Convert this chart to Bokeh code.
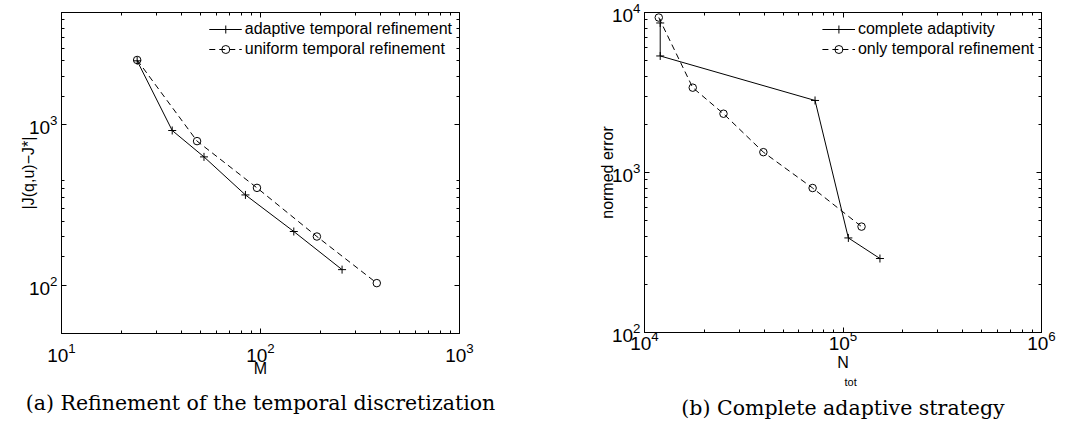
from bokeh.plotting import figure
from bokeh.models import (LogAxis, FixedTicker, LogTickFormatter, Legend,
                          LegendItem, Range1d, Title)
from bokeh.layouts import row
from bokeh.embed import file_html
from bokeh.resources import INLINE

# ---- panel (a): temporal refinement -------------------------------------
M_adaptive = [24, 36, 52, 84, 147, 257]
J_adaptive = [2500, 920, 630, 365, 216, 125]
M_uniform = [24, 48, 96, 192, 384]
J_uniform = [2530, 790, 404, 201, 103]

# ---- panel (b): complete adaptive strategy -------------------------------
N_complete = [12000, 12000, 72300, 106400, 153500]
err_complete = [8600, 5350, 2820, 390, 290]
N_temporal = [11800, 17500, 25000, 39700, 70300, 124000]
err_temporal = [9300, 3390, 2330, 1340, 800, 459]

SANS = "Liberation Sans"
SERIF = "DejaVu Serif"


def minor_ticks(lo, hi):
    out = []
    d = lo
    while d < hi:
        for k in range(2, 10):
            v = k * d
            if lo < v < hi:
                out.append(v)
        d *= 10
    return out


def decade_ticks(lo, hi):
    out = []
    d = 1.0
    while d > lo:
        d /= 10
    while d <= hi:
        if d >= lo * 0.999:
            out.append(d)
        d *= 10
    return out


def style_axis(ax, lo, hi, labels=False, standoff=4, label=None,
               label_standoff=2):
    ax.ticker = FixedTicker(ticks=decade_ticks(lo, hi),
                            minor_ticks=minor_ticks(lo, hi))
    ax.axis_line_color = "black"
    ax.axis_line_width = 1
    ax.major_tick_line_color = "black"
    ax.minor_tick_line_color = "black"
    ax.major_tick_in = 5
    ax.major_tick_out = 0
    ax.minor_tick_in = 3
    ax.minor_tick_out = 0
    if labels:
        ax.formatter = LogTickFormatter()
        ax.major_label_text_font = SANS
        ax.major_label_text_font_size = "19px"
        ax.major_label_text_color = "black"
        ax.major_label_standoff = standoff
    else:
        ax.major_label_text_font_size = "0px"
        ax.major_label_text_color = None
    if label is not None:
        ax.axis_label = label
        ax.axis_label_text_font = SANS
        ax.axis_label_text_font_size = "16px"
        ax.axis_label_text_font_style = "normal"
        ax.axis_label_text_color = "black"
        ax.axis_label_standoff = label_standoff


def make_fig(xr, yr, fw, fh, bl, br, bt, bb, xlabel, ylabel,
             xstand, ystand, xlab_stand, ylab_stand):
    p = figure(x_axis_type="log", y_axis_type="log",
               x_range=Range1d(*xr), y_range=Range1d(*yr),
               frame_width=fw, frame_height=fh,
               min_border_left=bl, min_border_right=br,
               min_border_top=bt, min_border_bottom=bb,
               output_backend="svg", toolbar_location=None)
    p.grid.visible = False
    p.outline_line_color = "black"
    p.outline_line_width = 1
    p.background_fill_color = "white"
    p.border_fill_color = "white"
    style_axis(p.xaxis[0], *xr, labels=True, standoff=xstand, label=xlabel,
               label_standoff=xlab_stand)
    style_axis(p.yaxis[0], *yr, labels=True, standoff=ystand, label=ylabel,
               label_standoff=ylab_stand)
    top = LogAxis()
    style_axis(top, *xr)
    p.add_layout(top, "above")
    right = LogAxis()
    style_axis(right, *yr)
    p.add_layout(right, "right")
    return p


def add_legend(p, items):
    leg = Legend(items=[LegendItem(label=lab, renderers=r) for lab, r in items],
                 location="top_right", margin=7, padding=0, spacing=0,
                 glyph_width=33, glyph_height=20, label_height=20,
                 label_standoff=3, label_text_font=SANS,
                 label_text_font_size="16px", label_text_color="black",
                 border_line_color=None, background_fill_alpha=0)
    p.add_layout(leg)


def add_title(p, text, size, font, standoff, align="center", offset=0):
    p.add_layout(Title(text=text, align=align, offset=offset,
                       text_font=font, text_font_size=f"{size}px",
                       text_font_style="normal", text_color="black",
                       standoff=standoff), "below")


# ---------------------------------------------------------------- panel (a)
a_xr, a_yr = (10, 1000), (50, 5000)
pa = make_fig(a_xr, a_yr, 398, 321, 61, 77, 12, 90,
              "M", "|J(q,u)\u2212J*|", 9, 4, -5, -11)

la1 = pa.line(M_adaptive, J_adaptive, line_color="black", line_width=1)
sa1 = pa.scatter(M_adaptive, J_adaptive, marker="cross", size=8,
                 line_color="black", line_width=1)
la2 = pa.line(M_uniform, J_uniform, line_color="black", line_width=1,
              line_dash="6 4")
sa2 = pa.scatter(M_uniform, J_uniform, marker="circle", size=7.5,
                 fill_color=None, line_color="black", line_width=1)
add_legend(pa, [("adaptive temporal refinement", [la1, sa1]),
                ("uniform temporal refinement", [la2, sa2])])
add_title(pa, "(a) Refinement of the temporal discretization", 20.5, SERIF, 18)

# ---------------------------------------------------------------- panel (b)
b_xr, b_yr = (1e4, 1e6), (100, 1e4)
pb = make_fig(b_xr, b_yr, 397, 320, 108, 32, 12, 91,
              "N", "normed error", -2, 4, 1, -7)

lb1 = pb.line(N_complete, err_complete, line_color="black", line_width=1)
sb1 = pb.scatter(N_complete, err_complete, marker="cross", size=8,
                 line_color="black", line_width=1)
lb2 = pb.line(N_temporal, err_temporal, line_color="black", line_width=1,
              line_dash="6 4")
sb2 = pb.scatter(N_temporal, err_temporal, marker="circle", size=7.5,
                 fill_color=None, line_color="black", line_width=1)
add_legend(pb, [("complete adaptivity", [lb1, sb1]),
                ("only temporal refinement", [lb2, sb2])])
add_title(pb, "tot", 11, SANS, 0, align="left", offset=200)
add_title(pb, "(b) Complete adaptive strategy", 20.5, SERIF, 12)

layout = row(pa, pb)
open("out.html", "w").write(file_html(layout, INLINE))
